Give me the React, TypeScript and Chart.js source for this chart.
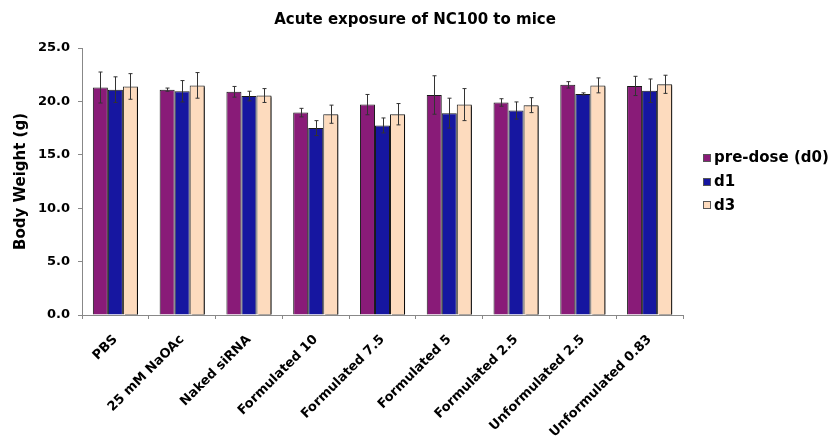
import React, { useEffect, useRef } from "react";
import { Chart, registerables, layouts } from "chart.js";

Chart.register(...registerables);

const categories = [
  "PBS",
  "25 mM NaOAc",
  "Naked siRNA",
  "Formulated 10",
  "Formulated 7.5",
  "Formulated 5",
  "Formulated 2.5",
  "Unformulated 2.5",
  "Unformulated 0.83",
];

const seriesNames = ["pre-dose (d0)", "d1", "d3"];
const seriesColors = ["#891B78", "#1616A0", "#FDDBBE"];

const d0Values = [21.3, 21.1, 20.9, 18.95, 19.7, 20.6, 19.9, 21.55, 21.45];
const d0Errors = [1.45, 0.15, 0.5, 0.4, 0.95, 1.8, 0.35, 0.3, 0.9];

const d1Values = [21.1, 20.95, 20.5, 17.5, 17.75, 18.9, 19.15, 20.7, 21.0];
const d1Errors = [1.2, 1.0, 0.45, 0.7, 0.7, 1.4, 0.8, 0.1, 1.1];

const d3Values = [21.4, 21.5, 20.55, 18.8, 18.8, 19.7, 19.65, 21.5, 21.6];
const d3Errors = [1.2, 1.2, 0.65, 0.85, 1.0, 1.5, 0.7, 0.7, 0.85];

const yTickValues = [0, 5, 10, 15, 20, 25];

const errorSets = [d0Errors, d1Errors, d3Errors];

const FONT = "'DejaVu Sans', Verdana, sans-serif";

const errorBarPlugin = {
  id: "errorBars",
  afterDatasetsDraw(chart: any) {
    const ctx = chart.ctx;
    const yScale = chart.scales.y;
    ctx.save();
    ctx.strokeStyle = "#333333";
    ctx.lineWidth = 1;
    chart.data.datasets.forEach((ds: any, i: number) => {
      const meta = chart.getDatasetMeta(i);
      const errs = errorSets[i];
      meta.data.forEach((bar: any, j: number) => {
        const v = ds.data[j];
        const e = errs[j];
        const x = Math.round(bar.x) + 0.5;
        const yTop = yScale.getPixelForValue(v + e);
        const yBot = yScale.getPixelForValue(v - e);
        ctx.beginPath();
        ctx.moveTo(x, yTop);
        ctx.lineTo(x, yBot);
        ctx.moveTo(x - 2, yTop);
        ctx.lineTo(x + 2, yTop);
        ctx.moveTo(x - 2, yBot);
        ctx.lineTo(x + 2, yBot);
        ctx.stroke();
      });
    });
    ctx.restore();
  },
};

const shadowPlugin = {
  id: "barShadow",
  beforeDatasetDraw(chart: any, args: any) {
    const ctx = chart.ctx;
    ctx.save();
    if (args.index === 2) {
      ctx.shadowColor = "rgba(0,0,0,0.85)";
      ctx.shadowOffsetX = 2;
      ctx.shadowOffsetY = 1;
      ctx.shadowBlur = 0;
    }
  },
  afterDatasetDraw(chart: any) {
    chart.ctx.restore();
  },
};

const sideLegendPlugin = {
  id: "sideLegend",
  beforeInit(chart: any) {
    const box: any = {
      position: "right",
      weight: 1000,
      fullSize: false,
      options: {},
      width: 0,
      height: 0,
      left: 0,
      top: 0,
      right: 0,
      bottom: 0,
      isHorizontal() {
        return false;
      },
      update(maxWidth: number, maxHeight: number) {
        box.width = 147;
        box.height = maxHeight;
      },
      draw() {
        const ctx = chart.ctx;
        const area = chart.chartArea;
        const cy = (area.top + area.bottom) / 2;
        const step = 23.7;
        const bx = box.left + 20;
        ctx.save();
        ctx.font = `bold 15px ${FONT}`;
        ctx.textBaseline = "middle";
        ctx.textAlign = "left";
        chart.data.datasets.forEach((ds: any, i: number) => {
          const y = cy + (i - 1) * step;
          ctx.fillStyle = ds.backgroundColor;
          ctx.fillRect(bx, Math.round(y - 4), 8, 8);
          ctx.strokeStyle = "#555555";
          ctx.lineWidth = 1;
          ctx.strokeRect(bx + 0.5, Math.round(y - 4) + 0.5, 7, 7);
          ctx.fillStyle = "#000";
          ctx.fillText(ds.label, bx + 11, y + 0.5);
        });
        ctx.restore();
      },
    };
    layouts.addBox(chart, box);
  },
};

export default function App() {
  const canvasRef = useRef<HTMLCanvasElement | null>(null);

  useEffect(() => {
    document.body.style.margin = "0";
    const canvas = canvasRef.current;
    if (!canvas) return;
    const chart = new Chart(canvas, {
      type: "bar",
      data: {
        labels: categories,
        datasets: [
          {
            label: seriesNames[0],
            data: d0Values,
            backgroundColor: seriesColors[0],
            borderColor: "#1a1a1a",
            borderWidth: 1,
          },
          {
            label: seriesNames[1],
            data: d1Values,
            backgroundColor: seriesColors[1],
            borderColor: "#1a1a1a",
            borderWidth: 1,
          },
          {
            label: seriesNames[2],
            data: d3Values,
            backgroundColor: seriesColors[2],
            borderColor: "#1a1a1a",
            borderWidth: 1,
          },
        ],
      },
      options: {
        responsive: false,
        animation: false,
        layout: { padding: 0 },
        datasets: {
          bar: { categoryPercentage: 0.675, barPercentage: 1.0 },
        },
        plugins: {
          title: {
            display: true,
            text: "Acute exposure of NC100 to mice",
            color: "#000",
            font: { family: FONT, size: 15, weight: "bold" },
            padding: { top: 11, bottom: 19 },
          },
          legend: { display: false },
          tooltip: { enabled: false },
        },
        scales: {
          x: {
            grid: {
              display: true,
              drawOnChartArea: false,
              drawTicks: true,
              tickLength: 4,
              color: "#888888",
              offset: true,
            },
            border: { color: "#888888", width: 1 },
            ticks: {
              color: "#000",
              font: { family: FONT, size: 13, weight: "bold" },
              minRotation: 45,
              maxRotation: 45,
              autoSkip: false,
              padding: 13,
            },
            afterFit(scale: any) {
              scale.height = 126;
            },
          },
          y: {
            min: 0,
            max: 25,
            afterBuildTicks(scale: any) {
              scale.ticks = yTickValues.map((v) => ({ value: v }));
            },
            grid: {
              display: true,
              drawOnChartArea: false,
              drawTicks: true,
              tickLength: 4,
              color: "#888888",
            },
            border: { color: "#888888", width: 1 },
            ticks: {
              color: "#000",
              font: { family: FONT, size: 13, weight: "bold" },
              padding: 8,
              callback: (v: any) => Number(v).toFixed(1),
            },
            title: {
              display: true,
              text: "Body Weight (g)",
              color: "#000",
              font: { family: FONT, size: 15, weight: "bold" },
              padding: { top: 12, bottom: 0 },
            },
            afterFit(scale: any) {
              scale.width = 82;
            },
          },
        },
      },
      plugins: [sideLegendPlugin, shadowPlugin, errorBarPlugin],
    });
    return () => chart.destroy();
  }, []);

  return (
    <div style={{ position: "absolute", left: 0, top: 0, width: 830, height: 441, background: "#fff" }}>
      <canvas ref={canvasRef} width={830} height={441} />
    </div>
  );
}
